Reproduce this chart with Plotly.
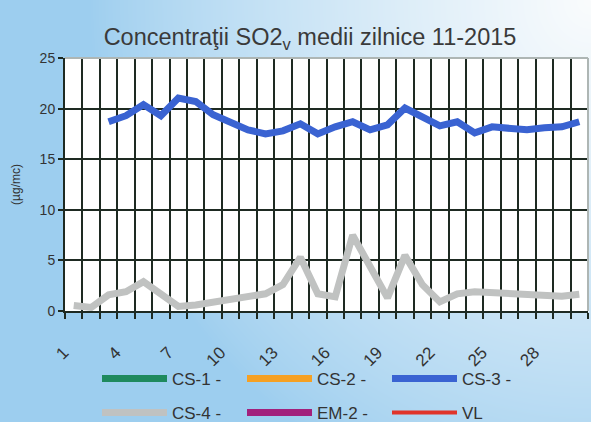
import zlib, struct, base64
import plotly.graph_objects as go

# ---- data ----
days = list(range(1, 31))
tick_days = [1, 4, 7, 10, 13, 16, 19, 22, 25, 28]
tick_labels = [str(d) for d in tick_days]

# series with no readings in the picture (legend only)
cs1_values = [None]
cs2_values = [None]
em2_values = [None]
vl_values = [None]
cs3_values = [None, None, 18.7, 19.3, 20.4, 19.3, 21.05, 20.7, 19.4, 18.7,
              17.9, 17.5, 17.8, 18.5, 17.5, 18.2, 18.7, 17.9, 18.4, 20.05,
              19.2, 18.3, 18.7, 17.6, 18.2, 18.1, 17.9, 18.1, 18.2, 18.7]
cs4_values = [0.55, 0.35, 1.6, 1.9, 2.9, 1.6, 0.45, 0.6, 0.85, 1.15,
              1.5, 1.7, 2.6, 5.3, 1.7, 1.4, 7.5, 4.4, 1.3, 5.5,
              2.6, 0.9, 1.7, 1.9, 1.8, 1.65, 1.5, 1.5, 1.45, 1.65]

W, H = 591, 422
ML, MR, MT, MB = 65, 3, 58, 111

# ---- gradient background image ----
def bg_pixel(i, j):
    u = i / (W - 1)
    v = j / (H - 1)
    d = (((1 - u) / 0.85) ** 2 + (v / 1.25) ** 2) ** 0.5
    t = max(0.0, min(1.0, 1.0 - d))
    t = t ** 0.8
    b = (157, 206, 239)
    w = (250, 252, 253)
    return bytes(int(b[k] + (w[k] - b[k]) * t) for k in range(3))

def make_png():
    raw = bytearray()
    for j in range(H):
        raw.append(0)
        for i in range(W):
            if ML <= i <= W - MR and MT <= j <= H - MB:
                raw.extend(b'\xff\xff\xff')
            else:
                raw.extend(bg_pixel(i, j))
    def chunk(t, d):
        c = struct.pack('>I', len(d)) + t + d
        return c + struct.pack('>I', zlib.crc32(t + d) & 0xffffffff)
    png = (b'\x89PNG\r\n\x1a\n'
           + chunk(b'IHDR', struct.pack('>IIBBBBB', W, H, 8, 2, 0, 0, 0))
           + chunk(b'IDAT', zlib.compress(bytes(raw), 9))
           + chunk(b'IEND', b''))
    return 'data:image/png;base64,' + base64.b64encode(png).decode()

pw = W - ML - MR
ph = H - MT - MB

fig = go.Figure()

def add(name, y, color, width, legend, rank):
    xs = days[:len(y)]
    fig.add_trace(go.Scatter(x=xs, y=y, name=name, mode='lines',
                             line=dict(color=color, width=width),
                             connectgaps=False, legend=legend,
                             legendrank=rank, hoverinfo='skip'))

add('CS-4 -', cs4_values, '#c0c2c1', 7, 'legend2', 4)
add('CS-3 -', cs3_values, '#3a63d2', 7, 'legend', 3)
add('CS-1 -', cs1_values, '#1f8a5e', 7, 'legend', 1)
add('CS-2 -', cs2_values, '#f5a023', 7, 'legend', 2)
add('EM-2 -', em2_values, '#a2217c', 7, 'legend2', 5)
add('VL', vl_values, '#e0342a', 4, 'legend2', 6)

dark = '#1e2a22'
font_fam = 'Liberation Sans, Arial, sans-serif'

legend_common = dict(orientation='h', xref='container', yref='container',
                     xanchor='left', yanchor='middle',
                     entrywidth=65, entrywidthmode='pixels', itemwidth=65,
                     font=dict(size=17, color='#333333', family=font_fam),
                     bgcolor='rgba(0,0,0,0)', traceorder='normal')

fig.update_layout(
    width=W, height=H,
    margin=dict(l=ML, r=MR, t=MT, b=MB, pad=0, autoexpand=False),
    paper_bgcolor='#b5dbf3',
    plot_bgcolor='white',
    font=dict(family=font_fam, color='#333333'),
    title=dict(text='Concentraţii SO2<sub>v</sub> medii zilnice 11-2015',
               x=310 / W, xref='container', xanchor='center',
               y=1 - 37 / H, yref='container', yanchor='middle',
               font=dict(size=23.5, color='#3a3a3a', family=font_fam)),
    xaxis=dict(range=[0.5, 30.5], tickmode='array', tickvals=tick_days,
               ticktext=tick_labels, tickangle=-45, ticks='', showgrid=False,
               tickfont=dict(size=17, color='#333333'),
               ticklabelstandoff=23, ticklabelshift=-10,
               showline=True, linecolor=dark, linewidth=2, zeroline=False,
               minor=dict(tick0=0.5, dtick=1, showgrid=True, gridcolor=dark,
                          gridwidth=2, ticks='outside', ticklen=6,
                          tickcolor=dark, tickwidth=2)),
    yaxis=dict(range=[0, 25], dtick=5, tick0=0, showgrid=True,
               gridcolor=dark, gridwidth=2, zeroline=False,
               showline=True, linecolor=dark, linewidth=2,
               ticks='outside', ticklen=5, tickcolor=dark, tickwidth=2,
               tickfont=dict(size=14, color='#333333'),
               title=dict(text='(µg/mc)', standoff=16,
                          font=dict(size=12, color='#333333'))),
    legend=dict(legend_common, x=97 / W, y=1 - 379 / H),
    legend2=dict(legend_common, x=97 / W, y=1 - 413 / H),
    showlegend=True,
)

fig.add_layout_image(dict(source=make_png(), xref='paper', yref='paper',
                          x=-ML / pw, y=1 + MT / ph, sizex=W / pw,
                          sizey=H / ph, sizing='stretch', layer='below',
                          xanchor='left', yanchor='top'))

# light border on top and right of plot area
fig.add_shape(type='line', xref='paper', yref='paper', x0=0, x1=1, y0=1, y1=1,
              line=dict(color='#aeb6b4', width=2), layer='above')
fig.add_shape(type='line', xref='paper', yref='paper', x0=1, x1=1, y0=0, y1=1,
              line=dict(color='#aeb6b4', width=2), layer='above')

fig.write_html('out.html', config={'displayModeBar': False},
               post_script="document.body.style.margin='0';")
